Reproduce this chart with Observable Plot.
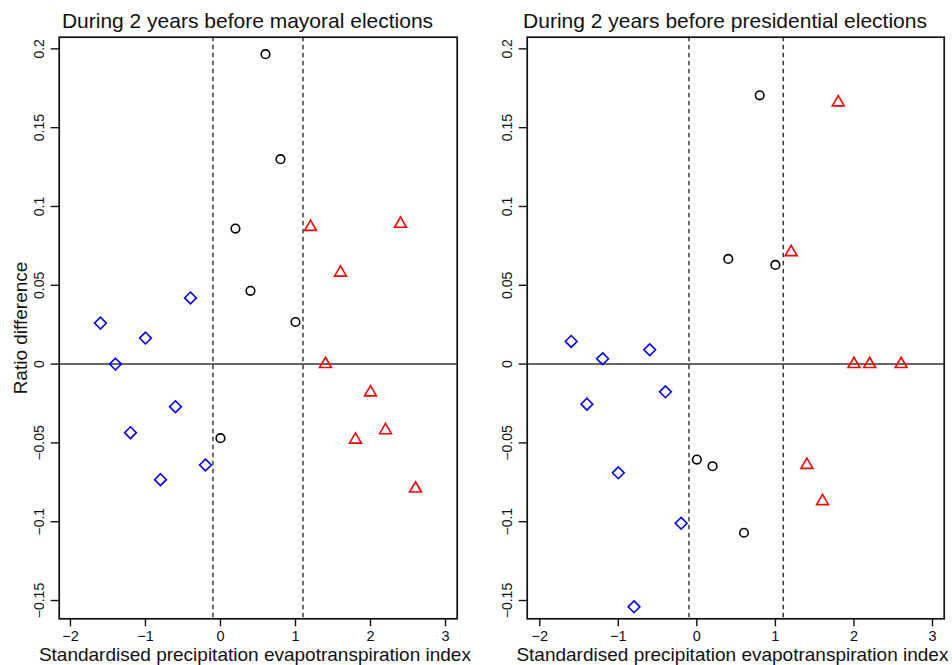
<!DOCTYPE html>
<html>
<head>
<meta charset="utf-8">
<script src="https://cdn.jsdelivr.net/npm/d3@7"></script>
<script src="https://cdn.jsdelivr.net/npm/@observablehq/plot@0.6"></script>
<style>
  html, body { margin: 0; padding: 0; background: white; }
  #wrap { display: flex; flex-direction: row; width: 952px; height: 665px; }
  #wrap svg { display: block; }
</style>
</head>
<body>
<div id="wrap"></div>
<script>
// ---- data ----
const titles = ["During 2 years before mayoral elections", "During 2 years before presidential elections"];
const xLabel = "Standardised precipitation evapotranspiration index";
const yLabel = "Ratio difference";

const xTicks = [-2, -1, 0, 1, 2, 3];
const xTickLabels = ["−2", "−1", "0", "1", "2", "3"];
const yTicks = [-0.15, -0.1, -0.05, 0, 0.05, 0.1, 0.15, 0.2];
const yTickLabels = ["−0.15", "−0.1", "−0.05", "0", "0.05", "0.1", "0.15", "0.2"];

const cutPoints = [-0.1, 1.1];

const mayoralSPEI  = [-1.6, -1.4, -1.2, -1.0, -0.8, -0.6, -0.4, -0.2,
                      0.0, 0.2, 0.4, 0.6, 0.8, 1.0,
                      1.2, 1.4, 1.6, 1.8, 2.0, 2.2, 2.4, 2.6];
const mayoralRatio = [0.026, 0.0, -0.0435, 0.0165, -0.0733, -0.027, 0.042, -0.064,
                      -0.047, 0.086, 0.0465, 0.1966, 0.130, 0.0267,
                      0.087, 0.0, 0.058, -0.048, -0.018, -0.042, 0.089, -0.079];

const presidentialSPEI  = [-1.6, -1.4, -1.2, -1.0, -0.8, -0.6, -0.4, -0.2,
                           0.0, 0.2, 0.4, 0.6, 0.8, 1.0,
                           1.2, 1.4, 1.6, 1.8, 2.0, 2.2, 2.6];
const presidentialRatio = [0.0144, -0.0254, 0.0034, -0.069, -0.154, 0.0091, -0.0176, -0.101,
                           -0.0606, -0.0648, 0.0667, -0.107, 0.1705, 0.0629,
                           0.071, -0.064, -0.087, 0.166, 0.0, 0.0, 0.0];

// ---- drawing ----
const FONT = "'Liberation Sans', Arial, Helvetica, sans-serif";

function panel({spei, ratio, title, xDomain, marginLeft, marginRight, showYLabel}) {
  const rows = spei.map((x, i) => ({x, y: ratio[i]}));
  const dry = rows.filter(d => d.x < cutPoints[0]);
  const normal = rows.filter(d => d.x >= cutPoints[0] && d.x <= cutPoints[1]);
  const wet = rows.filter(d => d.x > cutPoints[1]);
  const marks = [
    Plot.ruleX(cutPoints, {stroke: "#3a3a3a", strokeWidth: 1.5, strokeDasharray: "4.5,3.5"}),
    Plot.ruleY([0], {stroke: "#333", strokeWidth: 1.5}),
    Plot.frame({stroke: "#111", strokeWidth: 1.7}),
    Plot.axisX({ticks: xTicks, tickSize: 8, tickFormat: () => "", label: null, stroke: "#111", strokeWidth: 1.4}),
    Plot.axisY({ticks: yTicks, tickSize: 8, tickFormat: () => "", label: null, stroke: "#111", strokeWidth: 1.4}),
    Plot.text(xTicks, {x: d => d, text: (d, i) => xTickLabels[i], frameAnchor: "bottom", dy: 22.4,
      lineAnchor: "bottom", textAnchor: "middle", fontSize: 14.5, fill: "#111"}),
    Plot.text(yTicks, {y: d => d, text: (d, i) => yTickLabels[i], frameAnchor: "left", dx: -15.5,
      rotate: -90, lineAnchor: "bottom", textAnchor: "middle", fontSize: 14, fill: "#111"}),
    Plot.text([title], {text: d => d, frameAnchor: "top", dx: -10.7, dy: -9.7, lineAnchor: "bottom",
      textAnchor: "middle", fontSize: 21, fill: "#111"}),
    Plot.text([xLabel], {text: d => d, frameAnchor: "bottom", dx: -3.3, dy: 42.2, lineAnchor: "bottom",
      textAnchor: "middle", fontSize: 19, fill: "#111"}),
    Plot.dot(dry, {x: "x", y: "y", symbol: "diamond2", r: 5.3, stroke: "#0000ff", fill: "none", strokeWidth: 1.6}),
    Plot.dot(normal, {x: "x", y: "y", symbol: "circle", r: 4.3, stroke: "#000", fill: "none", strokeWidth: 1.6}),
    Plot.dot(wet, {x: "x", y: "y", symbol: "triangle", r: 4.4, stroke: "#ff0000", fill: "none", strokeWidth: 1.6})
  ];
  if (showYLabel) {
    marks.push(Plot.text([yLabel], {text: d => d, frameAnchor: "left", dx: -32.7, rotate: -90,
      lineAnchor: "bottom", textAnchor: "middle", fontSize: 19, fill: "#111"}));
  }
  return Plot.plot({
    width: 476,
    height: 665,
    marginTop: 36.7,
    marginBottom: 46.7,
    marginLeft,
    marginRight,
    style: {fontFamily: FONT, background: "white", overflow: "visible"},
    x: {domain: xDomain},
    y: {domain: [-0.1616, 0.2074]},
    marks
  });
}

const wrap = document.getElementById("wrap");
wrap.append(panel({spei: mayoralSPEI, ratio: mayoralRatio, title: titles[0],
  xDomain: [-2.15, 3.156], marginLeft: 58.7, marginRight: 19.3, showYLabel: true}));
wrap.append(panel({spei: presidentialSPEI, ratio: presidentialRatio, title: titles[1],
  xDomain: [-2.16, 3.149], marginLeft: 50.7, marginRight: 8.3, showYLabel: false}));
</script>
</body>
</html>
